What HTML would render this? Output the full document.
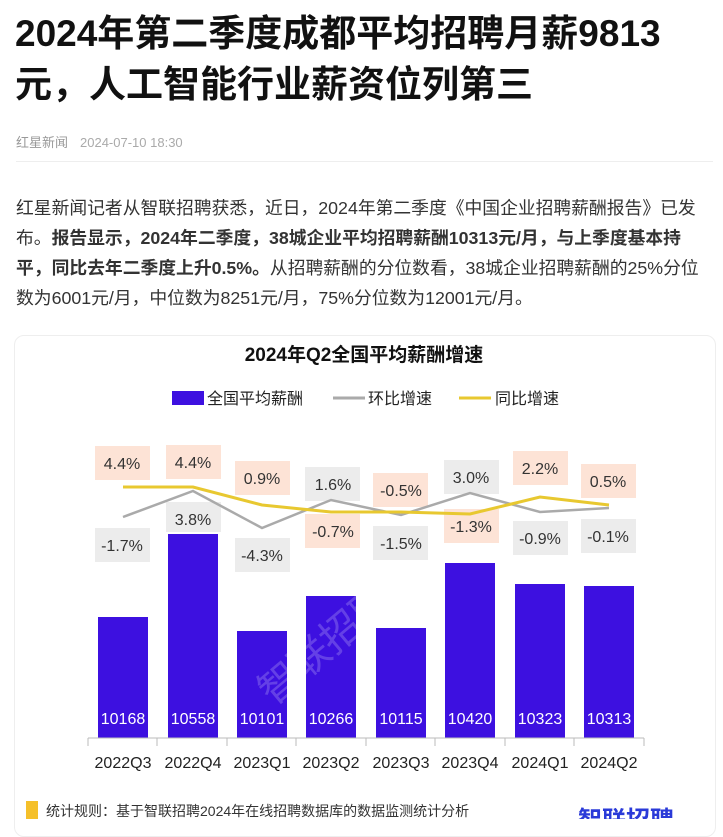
<!DOCTYPE html>
<html><head><meta charset="utf-8"><style>
body{margin:0;width:723px;height:819px;overflow:hidden;background:#fff;font-family:"Liberation Sans","Noto Sans CJK SC",sans-serif;position:relative}
.t{position:absolute;left:15px;top:8px;font-size:37px;font-weight:bold;line-height:51px;color:#111;white-space:nowrap}
.m{position:absolute;left:16px;top:132px;font-size:13px;color:#999}
.m span{margin-left:12px;color:#aaa}
.hr{position:absolute;left:16px;right:10px;top:161px;border-top:1px solid #eee}
.p{position:absolute;left:16px;top:193px;font-size:17.8px;line-height:30px;color:#333;white-space:nowrap}
.card{position:absolute;left:14px;top:335px;width:700px;height:500px;border:1px solid #eee;border-radius:10px}
</style></head><body>
<div class="t">2024年第二季度成都平均招聘月薪9813<br>元，人工智能行业薪资位列第三</div>
<div class="m">红星新闻<span>2024-07-10 18:30</span></div>
<div class="hr"></div>
<div class="p">红星新闻记者从智联招聘获悉，近日，2024年第二季度《中国企业招聘薪酬报告》已发<br>布。<b>报告显示，2024年二季度，38城企业平均招聘薪酬10313元/月，与上季度基本持<br>平，同比去年二季度上升0.5%。</b>从招聘薪酬的分位数看，38城企业招聘薪酬的25%分位<br>数为6001元/月，中位数为8251元/月，75%分位数为12001元/月。</div>
<div class="card"></div>
<svg width="723" height="819" style="position:absolute;left:0;top:0" font-family="Liberation Sans, Noto Sans CJK SC, sans-serif">
<text x="364" y="361" text-anchor="middle" font-size="19" font-weight="bold" fill="#111">2024年Q2全国平均薪酬增速</text>
<rect x="172" y="391" width="32" height="14" fill="#3d10e0"/>
<text x="207" y="404" font-size="16" fill="#222">全国平均薪酬</text>
<line x1="333" y1="398" x2="365" y2="398" stroke="#aaa" stroke-width="3"/>
<text x="368" y="404" font-size="16" fill="#222">环比增速</text>
<line x1="459" y1="398" x2="491" y2="398" stroke="#e8c830" stroke-width="3"/>
<text x="495" y="404" font-size="16" fill="#222">同比增速</text>
<g fill="#3d10e0">
<rect x="98" y="617" width="50" height="121"/><rect x="168" y="534" width="50" height="204"/>
<rect x="237" y="631" width="50" height="107"/><rect x="306" y="596" width="50" height="142"/>
<rect x="376" y="628" width="50" height="110"/><rect x="445" y="563" width="50" height="175"/>
<rect x="515" y="584" width="50" height="154"/><rect x="584" y="586" width="50" height="152"/>
</g>
<text x="234" y="680" font-size="40" fill="#fff" opacity="0.2" transform="rotate(-40 290 640)">智联招聘</text>
<g font-size="16" fill="#fff" text-anchor="middle">
<text x="123" y="724">10168</text><text x="193" y="724">10558</text><text x="262" y="724">10101</text><text x="331" y="724">10266</text><text x="401" y="724">10115</text><text x="470" y="724">10420</text><text x="540" y="724">10323</text><text x="609" y="724">10313</text>
</g>
<g stroke="#bbb" fill="none"><line x1="88" y1="738" x2="644" y2="738"/>
<path d="M88 738v8M157 738v8M227 738v8M296 738v8M366 738v8M435 738v8M505 738v8M574 738v8M644 738v8"/></g>
<g font-size="16" fill="#222" text-anchor="middle">
<text x="123" y="768">2022Q3</text><text x="193" y="768">2022Q4</text><text x="262" y="768">2023Q1</text><text x="331" y="768">2023Q2</text><text x="401" y="768">2023Q3</text><text x="470" y="768">2023Q4</text><text x="540" y="768">2024Q1</text><text x="609" y="768">2024Q2</text>
</g>
<g fill="#fde3d6">
<rect x="95" y="446" width="55" height="34"/><rect x="166" y="445" width="55" height="34"/><rect x="235" y="461" width="55" height="34"/><rect x="305" y="514" width="55" height="34"/><rect x="373" y="473" width="55" height="34"/><rect x="444" y="509" width="55" height="34"/><rect x="513" y="451" width="55" height="34"/><rect x="581" y="464" width="55" height="34"/>
</g>
<g fill="#ececec">
<rect x="95" y="528" width="55" height="34"/><rect x="166" y="502" width="55" height="30"/><rect x="235" y="538" width="55" height="34"/><rect x="305" y="467" width="55" height="34"/><rect x="373" y="526" width="55" height="34"/><rect x="444" y="460" width="55" height="34"/><rect x="513" y="521" width="55" height="34"/><rect x="581" y="519" width="55" height="34"/>
</g>
<polyline points="123,517 193,491 262,528 331,500 401,515 470,493 540,512 609,508" fill="none" stroke="#aaa" stroke-width="2.5"/>
<polyline points="123,487 193,487 262,505 331,512 401,512 470,514 540,497 609,505" fill="none" stroke="#e8c830" stroke-width="3"/>
<g font-size="16" fill="#333" text-anchor="middle">
<text x="122" y="469">4.4%</text><text x="193" y="468">4.4%</text><text x="262" y="484">0.9%</text><text x="333" y="537">-0.7%</text><text x="401" y="496">-0.5%</text><text x="471" y="532">-1.3%</text><text x="540" y="474">2.2%</text><text x="608" y="487">0.5%</text>
<text x="122" y="551">-1.7%</text><text x="193" y="525">3.8%</text><text x="262" y="561">-4.3%</text><text x="333" y="490">1.6%</text><text x="401" y="549">-1.5%</text><text x="471" y="483">3.0%</text><text x="540" y="544">-0.9%</text><text x="608" y="542">-0.1%</text>
</g>
<rect x="26" y="801" width="12" height="18" fill="#f5c02a"/>
<text x="46" y="816" font-size="14" fill="#333">统计规则：基于智联招聘2024年在线招聘数据库的数据监测统计分析</text>
<text x="578" y="828" font-size="24" font-weight="bold" fill="#2a3ad8">智联招聘</text>
</svg>
</body></html>
